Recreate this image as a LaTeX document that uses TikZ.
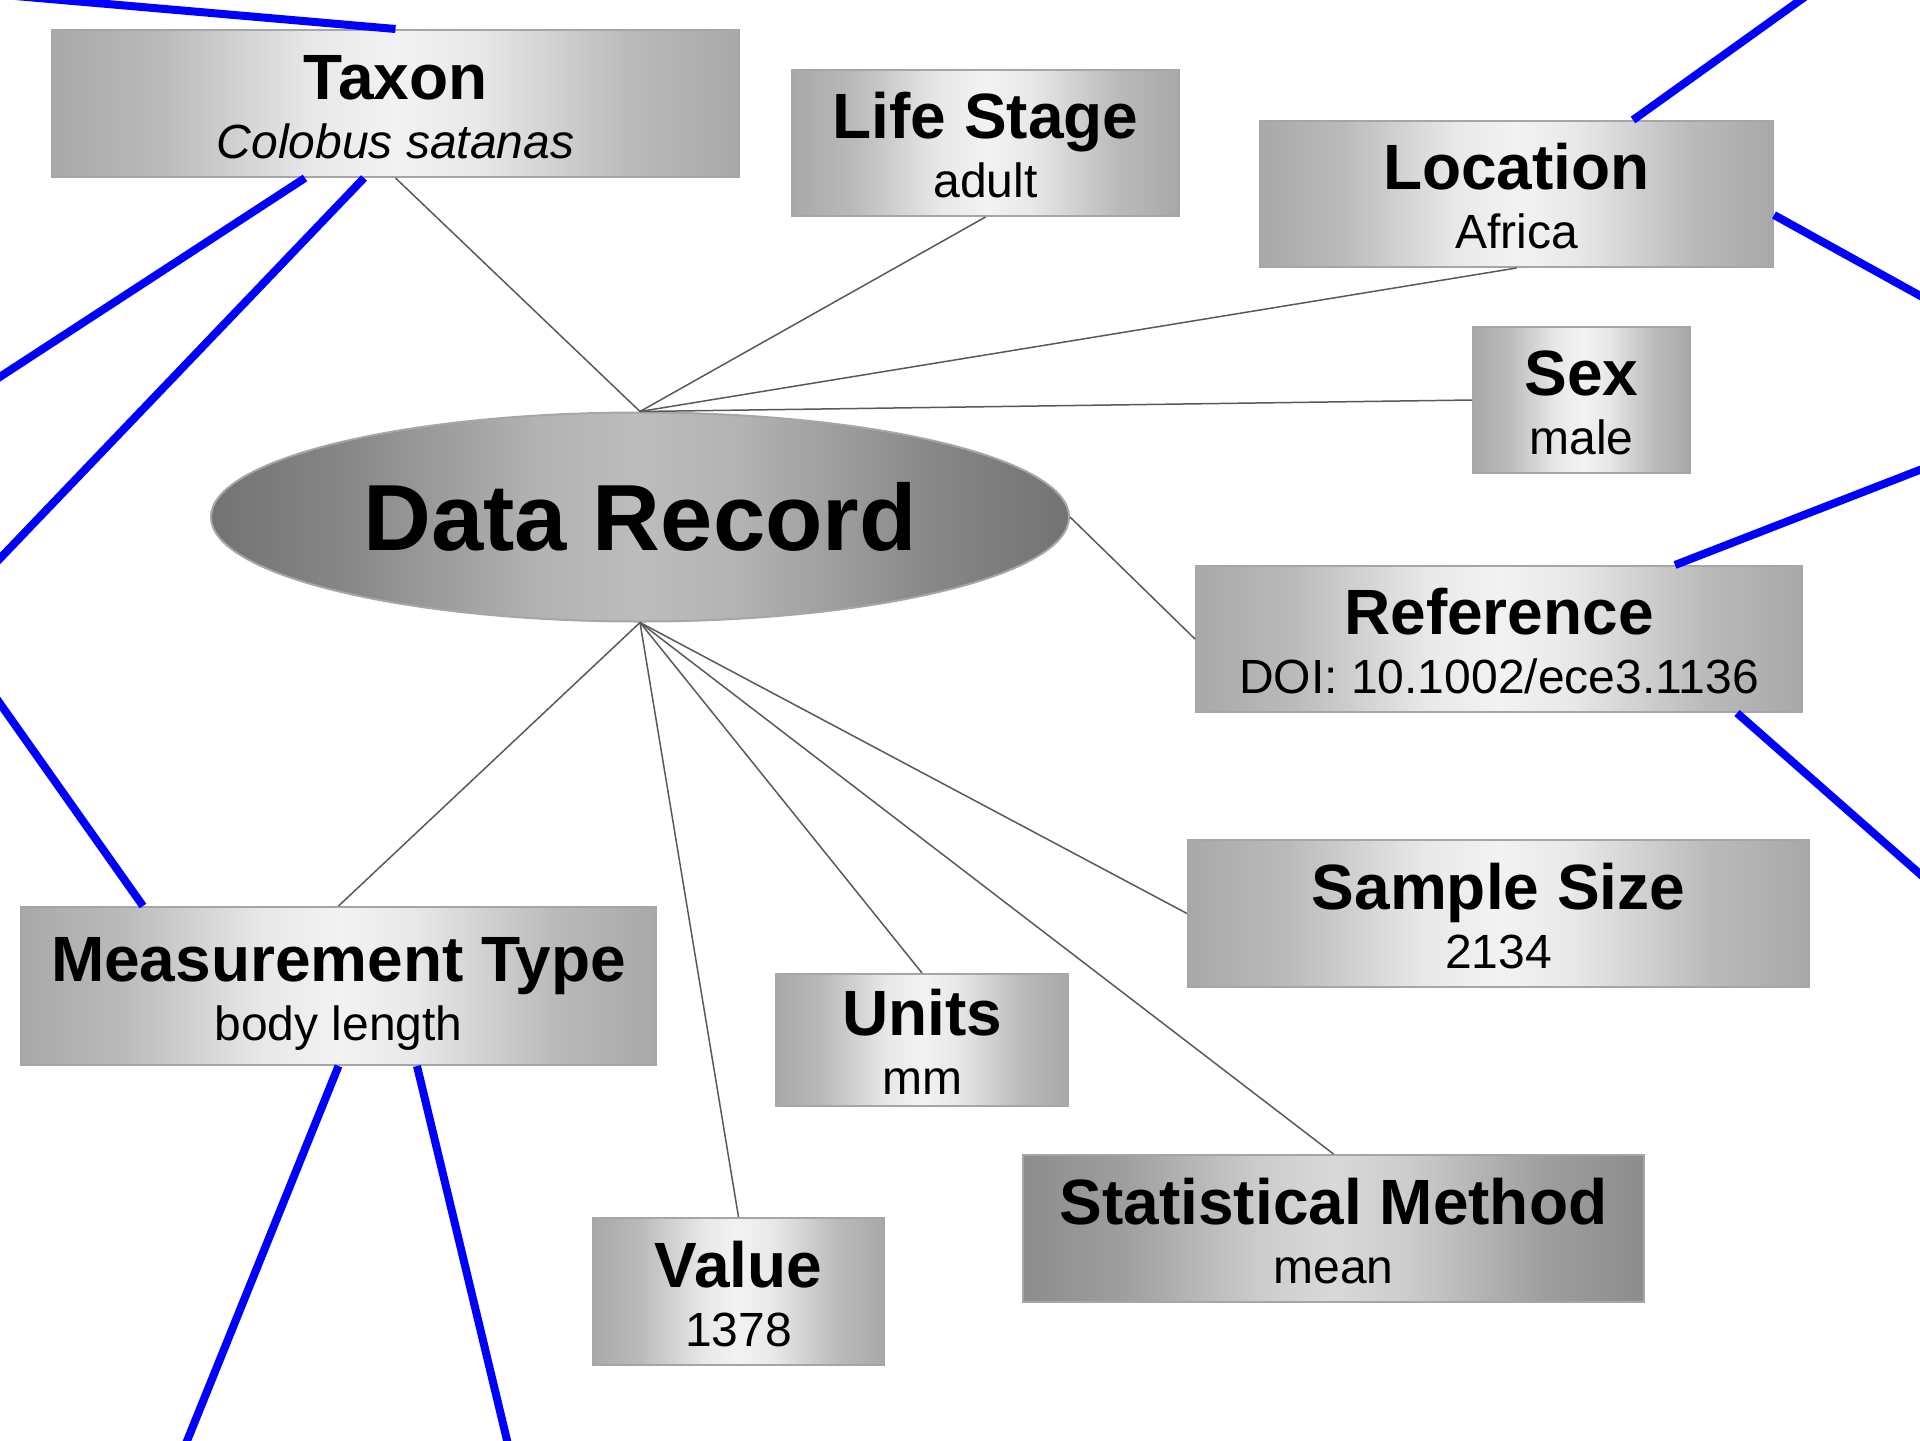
\documentclass[tikz,border=0pt]{standalone}
\usepackage{fontspec}
\setmainfont{Liberation Sans}
\usetikzlibrary{shapes.geometric, calc}

\pgfdeclarehorizontalshading{fieldshade}{100bp}{color(0bp)=(black!34); color(25bp)=(black!34); color(33bp)=(black!27); color(44bp)=(black!9); color(50bp)=(black!5); color(56bp)=(black!9); color(67bp)=(black!27); color(75bp)=(black!34); color(100bp)=(black!34)}
\pgfdeclarehorizontalshading{statshade}{100bp}{color(0bp)=(black!45); color(25bp)=(black!45); color(33bp)=(black!38); color(44bp)=(black!20); color(50bp)=(black!15); color(56bp)=(black!20); color(67bp)=(black!38); color(75bp)=(black!45); color(100bp)=(black!45)}
\pgfdeclarehorizontalshading{recshade}{100bp}{color(0bp)=(black!55); color(25bp)=(black!55); color(33bp)=(black!47); color(44bp)=(black!30); color(50bp)=(black!26); color(56bp)=(black!30); color(67bp)=(black!47); color(75bp)=(black!55); color(100bp)=(black!55)}

% title line over value line
\newcommand{\fld}[2]{{\fontsize{32}{32}\selectfont\bfseries\rule{0pt}{30pt}#1}\\#2\rule[-5pt]{0pt}{5pt}}

\begin{document}
\begin{tikzpicture}[x=0.5pt, y=-0.5pt,
    field/.style={rectangle, draw=black!35, line width=1pt, shade, shading=fieldshade,
                  align=center, inner sep=0pt, font=\fontsize{24}{29.5}\selectfont},
    darkfield/.style={field, shading=statshade},
    record/.style={ellipse, draw=black!35, line width=1pt, shade, shading=recshade,
                   inner sep=0pt, font=\fontsize{47}{47}\selectfont\bfseries},
    link/.style={draw=black!65, line width=0.75pt},
    ext/.style={draw=blue, line width=4pt}]
      \useasboundingbox (0,0) rectangle (1920,1440);

      \node[record, minimum width=429pt, minimum height=104.5pt] (rec) at (640,517) {Data Record};

      \node[field, minimum width=343.5pt, minimum height=73.5pt] (taxon) at (395.5,103.5) {\fld{Taxon}{\itshape Colobus satanas}};
      \node[field, minimum width=193.5pt, minimum height=73pt] (stage) at (985.5,143) {\fld{Life Stage}{adult}};
      \node[field, minimum width=256.5pt, minimum height=73pt] (loc) at (1516.5,194) {\fld{Location}{Africa}};
      \node[field, minimum width=108.5pt, minimum height=73pt] (sex) at (1581.5,400) {\fld{Sex}{male}};
      \node[field, minimum width=303pt, minimum height=73pt] (ref) at (1499,639) {\fld{Reference}{DOI: 10.1002/ece3.1136}};
      \node[field, minimum width=310.5pt, minimum height=73.5pt] (size) at (1498.5,913.5) {\fld{Sample Size}{2134}};
      \node[field, minimum width=317.5pt, minimum height=79pt] (mtype) at (338.5,986) {\fld{Measurement Type}{body length}};
      \node[field, minimum width=146pt, minimum height=66pt] (units) at (922,1040) {\fld{Units}{mm}};
      \node[field, minimum width=145.5pt, minimum height=73.5pt] (val) at (738.5,1291.5) {\fld{Value}{1378}};
      \node[darkfield, minimum width=310.5pt, minimum height=73.5pt] (stat) at (1333.5,1228.5) {\fld{Statistical Method}{mean}};

      % links to records outside the view
      \coordinate (far1) at (-100,-14);
      \coordinate (far2) at (-100,442);
      \coordinate (far3) at (-100,663);
      \coordinate (far4) at (-100,562);
      \coordinate (far5) at (147,1540);
      \coordinate (far6) at (531,1540);
      \coordinate (far7) at (1940,-100);
      \coordinate (far8) at (2020,351);
      \coordinate (far9) at (2020,431);
      \coordinate (far10) at (2020,962);

      \path (rec.north) edge[link] (taxon.south)
            (rec.north) edge[link] (stage.south)
            (rec.north) edge[link] (loc.south)
            (rec.north) edge[link] (sex.west)
            (rec.east) edge[link] (ref.west)
            (rec.south) edge[link] (mtype.north)
            (rec.south) edge[link] (val.north)
            (rec.south) edge[link] (units.north)
            (rec.south) edge[link] (stat.north)
            (rec.south) edge[link] (size.west)
            ;

      \path (taxon.north) edge[ext] (far1)
            ($(taxon.south)+(-90.5,0)$) edge[ext] (far2)
            ($(taxon.south)+(-31.5,0)$) edge[ext] (far3)
            ($(mtype.north)+(-195.5,0)$) edge[ext] (far4)
            (mtype.south) edge[ext] (far5)
            ($(mtype.south)+(78.5,0)$) edge[ext] (far6)
            ($(loc.north)+(116.5,0)$) edge[ext] (far7)
            ($(loc.east)+(0,21)$) edge[ext] (far8)
            ($(ref.north)+(176,0)$) edge[ext] (far9)
            ($(ref.south)+(238,0)$) edge[ext] (far10)
            ;
    \end{tikzpicture}
\end{document}
